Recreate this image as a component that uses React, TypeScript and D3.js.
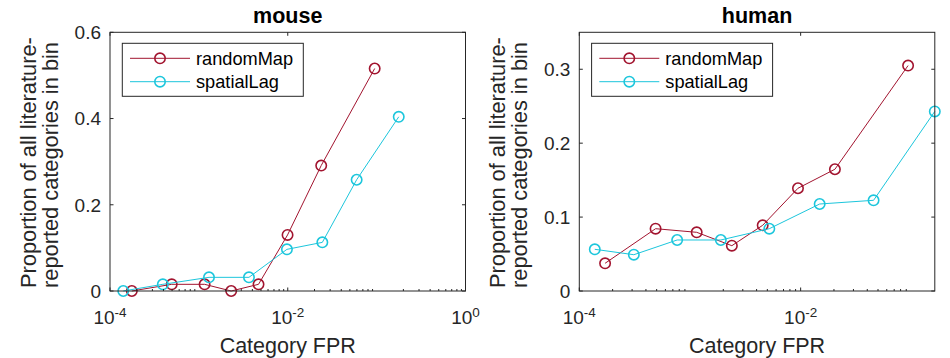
import React from "react";
import * as d3 from "d3";

// ---- data ----
const seriesNames = ["randomMap", "spatialLag"];
const seriesColors = ["#A2142F", "#1CC6DC"];

const mouseRandomX = [1.76e-4, 4.95e-4, 1.16e-3, 2.31e-3, 4.69e-3, 9.95e-3, 0.0238, 0.0951];
const mouseRandomY = [0, 0.0155, 0.0155, 0, 0.0155, 0.13, 0.291, 0.516];
const mouseLagX = [1.41e-4, 3.93e-4, 1.3e-3, 3.66e-3, 9.79e-3, 0.0245, 0.0596, 0.1774];
const mouseLagY = [0, 0.0155, 0.0317, 0.0317, 0.0966, 0.1128, 0.258, 0.404];

const humanRandomX = [1.71e-4, 4.89e-4, 1.15e-3, 2.39e-3, 4.54e-3, 9.46e-3, 0.0204, 0.0935];
const humanRandomY = [0.0375, 0.0843, 0.0794, 0.0613, 0.0889, 0.139, 0.1647, 0.305];
const humanLagX = [1.38e-4, 3.11e-4, 7.66e-4, 1.9e-3, 5.21e-3, 0.01486, 0.0456, 0.163];
const humanLagY = [0.0564, 0.0491, 0.069, 0.069, 0.0843, 0.1177, 0.1227, 0.243];

const mouseYTicks = [0, 0.2, 0.4, 0.6];
const humanYTicks = [0, 0.1, 0.2, 0.3];
const mouseXTickExps = [-4, -2, 0];
const humanXTickExps = [-4, -2];

const titles = ["mouse", "human"];
const xLabel = "Category FPR";
const yLabelLines = ["Proportion of all literature-", "reported categories in bin"];

const FONT = "'Liberation Sans', Arial, Helvetica, sans-serif";
const AX = "#262626";

type PanelProps = {
  left: number;
  title: string;
  xDomain: [number, number];
  yDomain: [number, number];
  yTicks: number[];
  xTickExps: number[];
  series: { xs: number[]; ys: number[] }[];
};

function Panel({ left, title, xDomain, yDomain, yTicks, xTickExps, series }: PanelProps) {
  const top = 32.3;
  const bottom = 291;
  const width = 355.5;
  const right = left + width;
  const x = d3.scaleLog().domain(xDomain).range([left, right]);
  const y = d3.scaleLinear().domain(yDomain).range([bottom, top]);
  const cx = (left + right) / 2;

  const minor: number[] = [];
  for (let e = -4; e < 1; e++) {
    for (let m = 2; m <= 9; m++) {
      const v = m * Math.pow(10, e);
      if (v > xDomain[0] && v < xDomain[1]) minor.push(v);
    }
  }
  const line = d3
    .line<[number, number]>()
    .x((d) => x(d[0]))
    .y((d) => y(d[1]));

  const lx = left + 12.3;
  const ly = 43.3;

  return (
    <g>
      <rect x={left} y={top} width={width} height={bottom - top} fill="white" />
      {/* series */}
      {series.map((s, i) => {
        const pts = s.xs.map((xv, j) => [xv, s.ys[j]] as [number, number]);
        return (
          <g key={i}>
            <path d={line(pts) || ""} fill="none" stroke={seriesColors[i]} strokeWidth={1} />
            {pts.map((p, j) => (
              <circle key={j} cx={x(p[0])} cy={y(p[1])} r={5.2} fill="none" stroke={seriesColors[i]} strokeWidth={1.6} />
            ))}
          </g>
        );
      })}
      {/* box */}
      <rect x={left} y={top} width={width} height={bottom - top} fill="none" stroke={AX} strokeWidth={1} />
      {/* y ticks */}
      {yTicks.map((t) => (
        <g key={t}>
          <line x1={left} x2={left + 3.5} y1={y(t)} y2={y(t)} stroke={AX} />
          <line x1={right} x2={right - 3.5} y1={y(t)} y2={y(t)} stroke={AX} />
          <text x={left - 9} y={y(t)} dy="0.36em" textAnchor="end" fontSize={19} fill={AX} fontFamily={FONT}>
            {t === 0 ? "0" : String(t)}
          </text>
        </g>
      ))}
      {/* x major ticks */}
      {xTickExps.map((e) => {
        const v = Math.pow(10, e);
        const px = x(v);
        return (
          <g key={e}>
            <line x1={px} x2={px} y1={bottom} y2={bottom - 3.5} stroke={AX} />
            <line x1={px} x2={px} y1={top} y2={top + 3.5} stroke={AX} />
            <text x={px} y={324} textAnchor="middle" fontSize={19} fill={AX} fontFamily={FONT}>
              10
              <tspan fontSize={13.5} dy={-6.8}>
                {String(e)}
              </tspan>
            </text>
          </g>
        );
      })}
      {minor.map((v, i) => (
        <line key={i} x1={x(v)} x2={x(v)} y1={bottom} y2={bottom - 2} stroke={AX} />
      ))}
      {/* title */}
      <text x={cx} y={23} textAnchor="middle" fontSize={21.5} fontWeight="bold" fill="#000" fontFamily={FONT}>
        {title}
      </text>
      {/* x label */}
      <text x={cx} y={352.5} textAnchor="middle" fontSize={21.5} fill={AX} fontFamily={FONT}>
        {xLabel}
      </text>
      {/* y label */}
      {yLabelLines.map((l, i) => (
        <text
          key={i}
          transform={`translate(${left - 74.5 + i * 22},288) rotate(-90)`}
          textAnchor="start"
          fontSize={21.8}
          fill={AX}
          fontFamily={FONT}
        >
          {l}
        </text>
      ))}
      {/* legend */}
      <rect x={lx} y={ly} width={181} height={53} fill="white" stroke={AX} strokeWidth={1} />
      {seriesNames.map((n, i) => {
        const yy = ly + 15 + i * 23.4;
        return (
          <g key={n}>
            <line x1={lx + 7.7} x2={lx + 67.7} y1={yy} y2={yy} stroke={seriesColors[i]} strokeWidth={1} />
            <circle cx={lx + 37.7} cy={yy} r={5.2} fill="none" stroke={seriesColors[i]} strokeWidth={1.6} />
            <text x={lx + 73.7} y={yy} dy="0.36em" fontSize={18.2} fill="#000" fontFamily={FONT}>
              {n}
            </text>
          </g>
        );
      })}
    </g>
  );
}

export default function App() {
  return (
    <svg
      width={950}
      height={358}
      style={{ position: "absolute", left: 0, top: 0, display: "block", background: "white" }}
    >
      <rect x={0} y={0} width={950} height={358} fill="white" />
      <Panel
        left={110}
        title={titles[0]}
        xDomain={[1e-4, 1]}
        yDomain={[0, 0.6]}
        yTicks={mouseYTicks}
        xTickExps={mouseXTickExps}
        series={[
          { xs: mouseRandomX, ys: mouseRandomY },
          { xs: mouseLagX, ys: mouseLagY },
        ]}
      />
      <Panel
        left={579.3}
        title={titles[1]}
        xDomain={[1e-4, 0.163]}
        yDomain={[0, 0.35]}
        yTicks={humanYTicks}
        xTickExps={humanXTickExps}
        series={[
          { xs: humanRandomX, ys: humanRandomY },
          { xs: humanLagX, ys: humanLagY },
        ]}
      />
    </svg>
  );
}
